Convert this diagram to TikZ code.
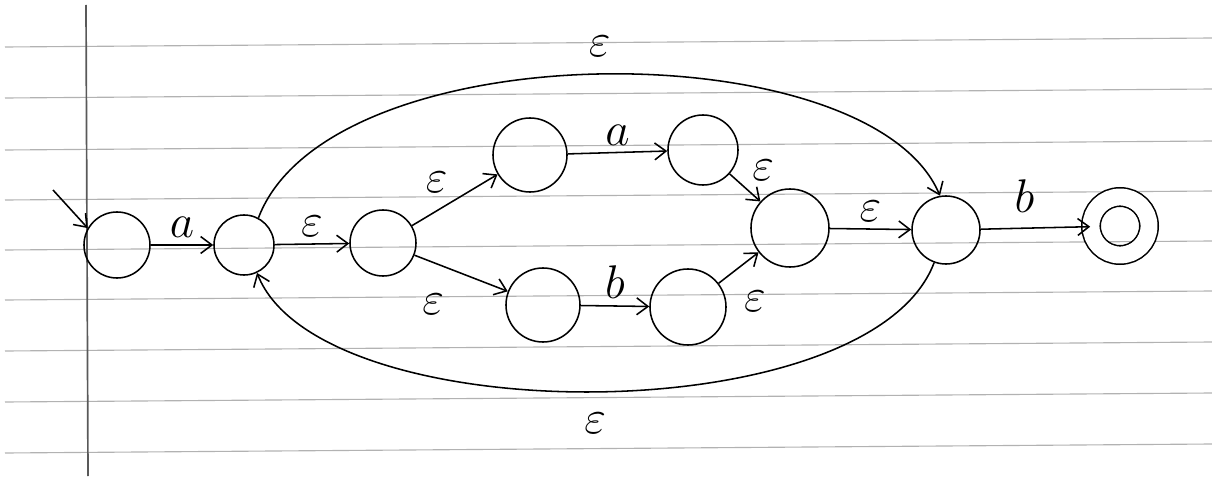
\documentclass[tikz,border=0pt]{standalone}
\usepackage{tikz}
\usetikzlibrary{arrows.meta}

\begin{document}
\begin{tikzpicture}[
    x=0.025cm, y=-0.025cm,
    state/.style={circle, draw, line width=1.1pt, minimum size=1.75cm, inner sep=0pt},
    final/.style={state, double, double distance=12pt, minimum size=1.45cm},
    arrow/.style={-{Straight Barb[length=8pt, width=12pt]}, line width=1.1pt},
    lab/.style={font=\Huge, scale=1.35, transform shape},
    paper/.style={gray!60, line width=0.8pt}
]
\useasboundingbox (0,0) rectangle (1212,479);

% Papierlinien
\foreach \y in {47,98,150,200,250,300,351,402,453}
    \draw[paper] (5,\y) -- (1212,\y-9);
\draw[gray!70!black, line width=1.2pt] (86,5) -- (88,476);

% Zustaende
\node[state, minimum size=1.65cm] (q0) at (117,245) {};
\node[state, minimum size=1.5cm] (q1) at (244,245) {};
\node[state, minimum size=1.65cm] (q2) at (383,243) {};
\node[state, minimum size=1.85cm] (q3) at (530,155) {};
\node[state] (q4) at (703,150) {};
\node[state, minimum size=1.85cm] (q5) at (543,305) {};
\node[state, minimum size=1.9cm] (q6) at (688,307) {};
\node[state, minimum size=1.95cm] (q7) at (790,228) {};
\node[state, minimum size=1.7cm] (q8) at (946,230) {};
\node[final] (q9) at (1120,226) {};

% Start
\coordinate (start) at (53,190);
\draw[arrow] (start) -- (q0.150);

% Uebergaenge
\draw[arrow] (q0) -- node[above, lab] {$a$} (q1);
\draw[arrow] (q1) -- node[above, lab] {$\varepsilon$} (q2);
\draw[arrow] (q2) -- node[above left, lab] {$\varepsilon$} (q3);
\draw[arrow] (q2) -- node[pos=0.2, below=0.6cm, lab] {$\varepsilon$} (q5);
\draw[arrow] (q3) -- node[above, lab] {$a$} (q4);
\draw[arrow] (q5) -- node[above, lab] {$b$} (q6);
\draw[arrow] (q4) -- node[above right, lab] {$\varepsilon$} (q7);
\draw[arrow] (q6) -- node[pos=0.1, below right=0.1cm, xshift=0.25cm, lab] {$\varepsilon$} (q7);
\draw[arrow] (q7) -- node[above, lab] {$\varepsilon$} (q8);
\draw[arrow] (q8) -- node[pos=0.4, above=0.2cm, lab] {$b$} (q9);

% Schleifen
\draw[arrow] (q1.62) .. controls (330,30) and (870,30) .. (q8.100)
    node[midway, above=0.25cm, lab] {$\varepsilon$};
\draw[arrow] (q8.250) .. controls (870,433) and (320,433) .. (q1.295)
    node[midway, below=0.35cm, lab] {$\varepsilon$};
\end{tikzpicture}
\end{document}
